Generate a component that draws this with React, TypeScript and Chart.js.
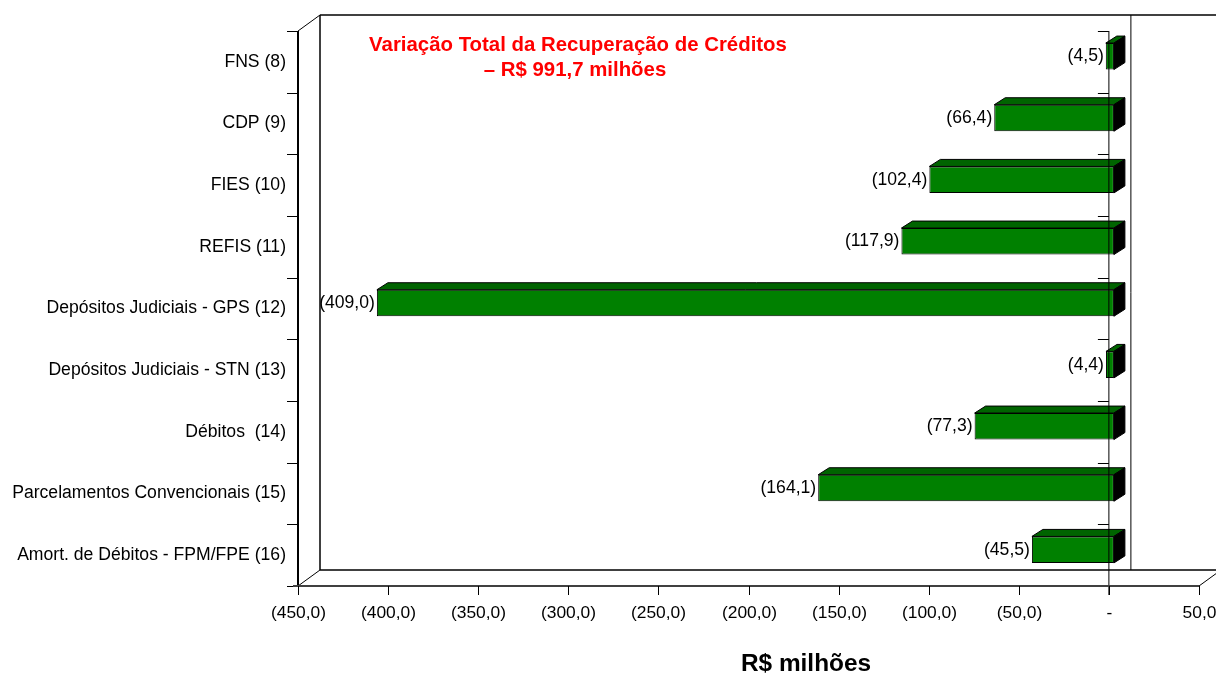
import React, { useEffect, useRef } from "react";
import { Chart, registerables } from "chart.js";

Chart.register(...registerables);

// Recovery of credits by source, R$ millions (negative = reduction)
const categories = [
  "FNS (8)",
  "CDP (9)",
  "FIES (10)",
  "REFIS (11)",
  "Depósitos Judiciais - GPS (12)",
  "Depósitos Judiciais - STN (13)",
  "Débitos  (14)",
  "Parcelamentos Convencionais (15)",
  "Amort. de Débitos - FPM/FPE (16)",
];
const values = [-4.5, -66.4, -102.4, -117.9, -409.0, -4.4, -77.3, -164.1, -45.5];

const axisMin = -450;
const axisMax = 50;
const axisStep = 50;

const noteLines = ["Variação Total da Recuperação de Créditos", "– R$ 991,7 milhões"];
const axisTitle = "R$ milhões";

const FONT = "'Liberation Sans', Arial, sans-serif";

// depth of the box (front plane to back wall) and of each bar
const BOX_DX = 22;
const BOX_DY = 16;
const BAR_SHIFT_X = 5;
const BAR_SHIFT_Y = -5.5;
const BAR_DX = 11;
const BAR_DY = 7;

const fmt = (v: number) => {
  if (v === 0) return "-";
  const s = Math.abs(v).toFixed(1).replace(".", ",");
  return v < 0 ? `(${s})` : s;
};

const line = (ctx: CanvasRenderingContext2D, x1: number, y1: number, x2: number, y2: number) => {
  ctx.beginPath();
  ctx.moveTo(x1, y1);
  ctx.lineTo(x2, y2);
  ctx.stroke();
};

const frame3d = {
  id: "frame3d",
  beforeDatasetsDraw(chart: any) {
    const { ctx, chartArea: ca, scales } = chart;
    const x = scales.x;
    const W = chart.width;
    ctx.save();
    ctx.strokeStyle = "#000";
    ctx.lineWidth = 1.5;
    // back wall and floor
    line(ctx, ca.left + BOX_DX, ca.top - BOX_DY, ca.left + BOX_DX, ca.bottom - BOX_DY);
    line(ctx, ca.left + BOX_DX, ca.top - BOX_DY, W, ca.top - BOX_DY);
    line(ctx, ca.left + BOX_DX, ca.bottom - BOX_DY, W, ca.bottom - BOX_DY);
    ctx.lineWidth = 1;
    const zb = x.getPixelForValue(0) + BOX_DX;
    line(ctx, zb, ca.top - BOX_DY, zb, ca.bottom - BOX_DY);
    // side diagonals
    line(ctx, ca.left, ca.top, ca.left + BOX_DX, ca.top - BOX_DY);
    line(ctx, ca.left, ca.bottom, ca.left + BOX_DX, ca.bottom - BOX_DY);
    line(ctx, ca.right, ca.bottom, ca.right + BOX_DX, ca.bottom - BOX_DY);
    ctx.restore();

    // bar depth faces
    ctx.save();
    ctx.translate(BAR_SHIFT_X, BAR_SHIFT_Y);
    const meta = chart.getDatasetMeta(0);
    meta.data.forEach((bar: any) => {
      const p = bar.getProps(["x", "y", "base", "height"], true);
      const left = Math.min(p.x, p.base);
      const right = Math.max(p.x, p.base);
      const top = p.y - p.height / 2;
      const bottom = p.y + p.height / 2;
      ctx.lineWidth = 1;
      ctx.strokeStyle = "#000";
      ctx.fillStyle = "#006400";
      ctx.beginPath();
      ctx.moveTo(left, top);
      ctx.lineTo(left + BAR_DX, top - BAR_DY);
      ctx.lineTo(right + BAR_DX, top - BAR_DY);
      ctx.lineTo(right, top);
      ctx.closePath();
      ctx.fill();
      ctx.stroke();
      ctx.fillStyle = "#000";
      ctx.beginPath();
      ctx.moveTo(right, top);
      ctx.lineTo(right + BAR_DX, top - BAR_DY);
      ctx.lineTo(right + BAR_DX, bottom - BAR_DY);
      ctx.lineTo(right, bottom);
      ctx.closePath();
      ctx.fill();
      ctx.stroke();
    });
    ctx.restore();
    // bars themselves are drawn shifted too
    ctx.save();
    ctx.translate(BAR_SHIFT_X, BAR_SHIFT_Y);
  },
  afterDatasetsDraw(chart: any) {
    const { ctx, chartArea: ca, scales } = chart;
    const x = scales.x;
    const y = scales.y;
    const meta = chart.getDatasetMeta(0);

    // value labels, in the shifted frame of the bars
    ctx.font = `17.6px ${FONT}`;
    ctx.fillStyle = "#000";
    ctx.textAlign = "right";
    ctx.textBaseline = "middle";
    meta.data.forEach((bar: any, i: number) => {
      const p = bar.getProps(["x", "y", "base"], true);
      const left = Math.min(p.x, p.base);
      ctx.fillText(fmt(values[i]), left - 2, p.y);
    });
    ctx.restore();

    ctx.save();
    const n = categories.length;
    const band = (ca.bottom - ca.top) / n;
    const z = x.getPixelForValue(0);

    // front category axes (left edge and at zero)
    ctx.strokeStyle = "#000";
    ctx.lineWidth = 2;
    line(ctx, ca.left, ca.top, ca.left, ca.bottom);
    ctx.lineWidth = 1;
    line(ctx, z, ca.top, z, ca.bottom + 9);
    for (let i = 0; i <= n; i++) {
      const ty = Math.round(ca.top + i * band) + 0.5;
      line(ctx, ca.left - 11, ty, ca.left, ty);
      line(ctx, z - 11, ty, z, ty);
    }

    // value axis along the front edge of the floor
    ctx.strokeStyle = "#404040";
    ctx.lineWidth = 2;
    line(ctx, ca.left - 5, ca.bottom, ca.right, ca.bottom);
    ctx.lineWidth = 1;
    ctx.strokeStyle = "#000";
    ctx.font = `17.4px ${FONT}`;
    ctx.fillStyle = "#000";
    ctx.textAlign = "center";
    ctx.textBaseline = "middle";
    x.ticks.forEach((t: any) => {
      const px = Math.round(x.getPixelForValue(t.value)) + 0.5;
      line(ctx, px, ca.bottom, px, ca.bottom + 9);
      ctx.fillText(fmt(t.value), px, ca.bottom + 27);
    });

    // category labels
    ctx.font = `17.6px ${FONT}`;
    ctx.textAlign = "right";
    categories.forEach((c, i) => {
      ctx.fillText(c, ca.left - 12, y.getPixelForValue(i));
    });

    // total note
    ctx.fillStyle = "#ff0000";
    ctx.font = `bold 20.4px ${FONT}`;
    ctx.textAlign = "center";
    ctx.fillText(noteLines[0], 578, 45);
    ctx.fillText(noteLines[1], 575, 70);

    // axis title
    ctx.fillStyle = "#000";
    ctx.font = `bold 24.4px ${FONT}`;
    ctx.fillText(axisTitle, 806, 664);
    ctx.restore();
  },
};

export default function App() {
  const ref = useRef<HTMLCanvasElement | null>(null);

  useEffect(() => {
    if (!ref.current) return;
    const chart = new Chart(ref.current, {
      type: "bar",
      data: {
        labels: categories,
        datasets: [
          {
            data: values,
            backgroundColor: "#008000",
            borderColor: "#000",
            borderWidth: 1,
            borderSkipped: false,
            barPercentage: 0.43,
            categoryPercentage: 1,
          },
        ],
      },
      options: {
        indexAxis: "y",
        responsive: false,
        animation: false,
        layout: { padding: { left: 298, right: 17, top: 31, bottom: 87 } },
        plugins: { legend: { display: false }, tooltip: { enabled: false } },
        scales: {
          x: {
            display: false,
            min: axisMin,
            max: axisMax,
            ticks: { stepSize: axisStep },
          },
          y: { display: false, offset: true },
        },
      },
      plugins: [frame3d],
    });
    return () => chart.destroy();
  }, []);

  return (
    <div style={{ position: "fixed", left: 0, top: 0, width: 1216, height: 673, background: "#fff" }}>
      <canvas ref={ref} width={1216} height={673} />
    </div>
  );
}
